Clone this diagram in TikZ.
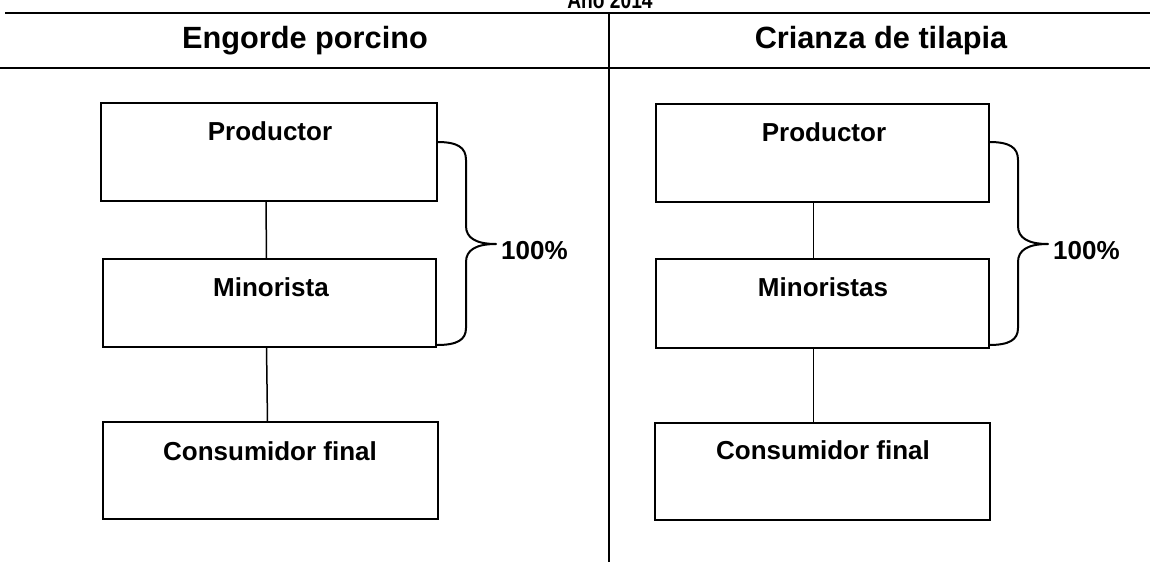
\documentclass[tikz,border=0pt]{standalone}
\usepackage{fontspec}
\setmainfont{Liberation Sans}
\begin{document}
\begin{tikzpicture}[x=1pt,y=-1pt,
  box/.style={draw=black, line width=2.2pt, inner sep=0pt, outer sep=0pt, rectangle},
  lbl/.style={inner sep=0pt, font=\bfseries\fontsize{26}{30}\selectfont},
  hdr/.style={inner sep=0pt, font=\bfseries\fontsize{30.7}{34}\selectfont},
  rule/.style={line width=2.4pt},
  link/.style={line width=1.5pt},
  brace/.style={line width=2pt, line join=round}]
\useasboundingbox (0,0) rectangle (1150,562);
\clip (0,0) rectangle (1150,562);
% title (cut off at top)
\node[inner sep=0pt, anchor=base, font=\bfseries\fontsize{24}{26}\selectfont] (title) at (610,9) {\scalebox{0.8}[1]{Año 2014}};
% table rules
\coordinate (r1a) at (5,13);  \coordinate (r1b) at (1150,13);
\coordinate (r2a) at (0,68);  \coordinate (r2b) at (1150,68);
\coordinate (dva) at (609,13); \coordinate (dvb) at (609,562);
\draw[rule] (r1a) -- (r1b);
\draw[rule] (r2a) -- (r2b);
\draw[line width=1.4pt] (dva) -- (dvb);
% headers
\node[hdr] (h1) at (305,41) {Engorde porcino};
\node[hdr] (h2) at (881,41) {Crianza de tilapia};
% left column boxes
\node[box, minimum width=336, minimum height=98] (pL) at (269,152) {};
\node[box, minimum width=333, minimum height=88] (mL) at (269.5,303) {};
\node[box, minimum width=335, minimum height=97] (cL) at (270.5,470.5) {};
\node[lbl] (tpL) at (270,131) {Productor};
\node[lbl] (tmL) at (271,287) {Minorista};
\node[lbl] (tcL) at (270,451) {Consumidor final};
\draw[link] ([xshift=-3pt]pL.south) -- ([xshift=-3pt]mL.north);
\draw[link] ([xshift=-3pt]mL.south) -- ([xshift=-3pt]cL.north);
% right column boxes
\node[box, minimum width=333, minimum height=98] (pR) at (822.5,153) {};
\node[box, minimum width=333, minimum height=89] (mR) at (822.5,303.5) {};
\node[box, minimum width=335, minimum height=97] (cR) at (822.5,471.5) {};
\node[lbl] (tpR) at (824,132) {Productor};
\node[lbl] (tmR) at (823,287) {Minoristas};
\node[lbl] (tcR) at (823,450) {Consumidor final};
\draw[link] ([xshift=-9pt]pR.south) -- ([xshift=-9pt]mR.north);
\draw[link] ([xshift=-9pt]mR.south) -- ([xshift=-9pt]cR.north);
% left brace
\coordinate (bLt) at (437,142);
\coordinate (bLm) at (496,244);
\coordinate (bLb) at (437,345);
\draw[brace] (bLt) .. controls (457,142) and (466,147) .. (466,160) -- (466,226)
  .. controls (466,238) and (476,244) .. (bLm)
  .. controls (476,244) and (466,250) .. (466,262) -- (466,328)
  .. controls (466,340) and (457,345) .. (bLb);
\node[lbl, anchor=west] (pcL) at (501,251) {100\%};
% right brace
\coordinate (bRt) at (989,142);
\coordinate (bRm) at (1048,244);
\coordinate (bRb) at (989,345);
\draw[brace] (bRt) .. controls (1009,142) and (1018,147) .. (1018,160) -- (1018,226)
  .. controls (1018,238) and (1028,244) .. (bRm)
  .. controls (1028,244) and (1018,250) .. (1018,262) -- (1018,328)
  .. controls (1018,340) and (1009,345) .. (bRb);
\node[lbl, anchor=west] (pcR) at (1053,251) {100\%};
\end{tikzpicture}
\end{document}
